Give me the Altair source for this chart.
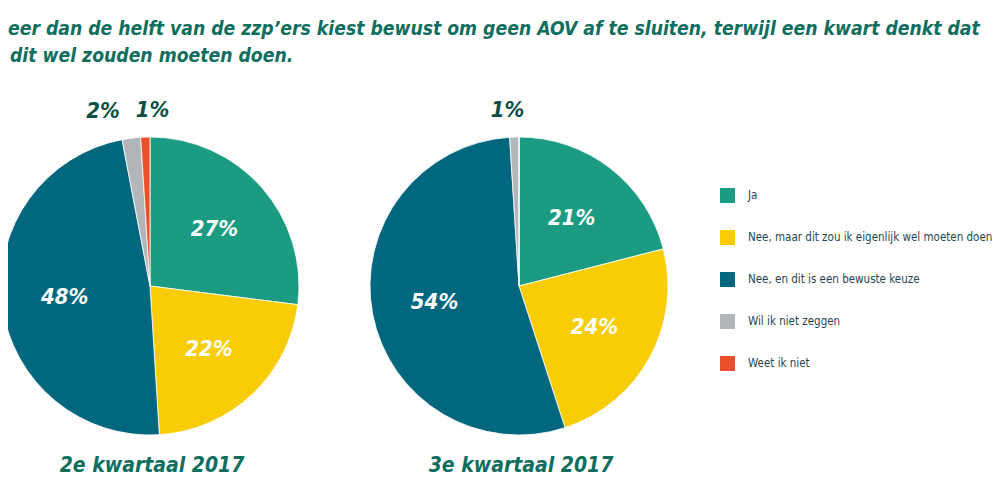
import altair as alt
import pandas as pd

title_lines = [
    "eer dan de helft van de zzp’ers kiest bewust om geen AOV af te sluiten, terwijl een kwart denkt dat",
    "dit wel zouden moeten doen.",
]
categories = [
    "Ja",
    "Nee, maar dit zou ik eigenlijk wel moeten doen",
    "Nee, en dit is een bewuste keuze",
    "Wil ik niet zeggen",
    "Weet ik niet",
]
colors = ["#1b9b81", "#f9cd06", "#00677f", "#b2b5ba", "#e8512b"]
quarters = ["2e kwartaal 2017", "3e kwartaal 2017"]
q2_values = [27, 22, 48, 2, 1]
q3_values = [21, 24, 54, 1, 0]

rows = []
for q, vals in zip(quarters, [q2_values, q3_values]):
    for i, (c, v) in enumerate(zip(categories, vals)):
        rows.append({"quarter": q, "category": c, "value": v, "idx": i, "label": f"{v}%"})
df = pd.DataFrame(rows)

FONT = "DejaVu Sans Condensed, sans-serif"
TITLE_COLOR = "#0f6e5d"
OUTER_COLOR = "#0d4f47"
centers = {quarters[0]: 142, quarters[1]: 511}
CY = 278
R = 149

theta_scale = alt.Scale(domain=[0, 100])
legend = alt.Legend(
    title=None, orient="none", legendX=712, legendY=180, padding=0,
    symbolType="square", symbolSize=225, symbolStrokeWidth=0, symbolOpacity=1,
    labelFont=FONT, labelFontSize=11.5, labelColor="#1f4650", labelOffset=13,
    rowPadding=27, labelLimit=400,
)
color = alt.Color("category:N", scale=alt.Scale(domain=categories, range=colors), legend=legend)

outer_offsets = {
    (quarters[0], categories[3]): -25,
    (quarters[0], categories[4]): 8,
    (quarters[1], categories[3]): -6,
}

layers = []
for q in quarters:
    cx = centers[q]
    b = (
        alt.Chart(df)
        .transform_filter(alt.datum.quarter == q)
        .transform_window(cum="sum(value)", sort=[alt.SortField("idx")], frame=[None, 0])
        .transform_calculate(start="datum.cum - datum.value", mid="datum.cum - datum.value / 2")
    )
    arc = b.mark_arc(outerRadius=R, stroke="white", strokeWidth=0.8).encode(
        theta=alt.Theta("start:Q", scale=theta_scale),
        theta2="cum:Q",
        color=color,
        x=alt.value(cx),
        y=alt.value(CY),
    )
    inner = b.transform_filter(alt.datum.value >= 5).mark_text(
        radius=86, font=FONT, fontSize=22, fontWeight="bold", fontStyle="italic",
        color="white", baseline="middle", align="center",
    ).encode(
        theta=alt.Theta("mid:Q", scale=theta_scale),
        text="label:N",
        x=alt.value(cx),
        y=alt.value(CY),
    )
    layers += [arc, inner]
    for (qq, cat), dx in outer_offsets.items():
        if qq != q:
            continue
        outer = b.transform_filter(alt.datum.category == cat).mark_text(
            radius=176, dx=dx, font=FONT, fontSize=22, fontWeight="bold", fontStyle="italic",
            color=OUTER_COLOR, baseline="middle", align="center",
        ).encode(
            theta=alt.Theta("mid:Q", scale=theta_scale),
            text="label:N",
            x=alt.value(cx),
            y=alt.value(CY),
        )
        layers.append(outer)
    qlabel = alt.Chart(pd.DataFrame({"q": [q]})).mark_text(
        font=FONT, fontSize=21, fontWeight="bold", fontStyle="italic",
        color=TITLE_COLOR, baseline="middle", align="center",
    ).encode(text="q:N", x=alt.value(cx + 2), y=alt.value(458))
    layers.append(qlabel)

title_x = [0, 2]
title_y = [21, 48]
for line, tx, ty in zip(title_lines, title_x, title_y):
    layers.append(
        alt.Chart(pd.DataFrame({"t": [line]})).mark_text(
            font=FONT, fontSize=19.2, fontWeight="bold", fontStyle="italic",
            color=TITLE_COLOR, baseline="middle", align="left",
        ).encode(text="t:N", x=alt.value(tx), y=alt.value(ty))
    )

chart = (
    alt.layer(*layers)
    .properties(width=984, height=484, autosize=alt.AutoSizeParams(type="none"), padding=0)
    .configure_view(strokeWidth=0)
)
chart.save("out.html", embed_options={"renderer": "svg", "actions": False})
